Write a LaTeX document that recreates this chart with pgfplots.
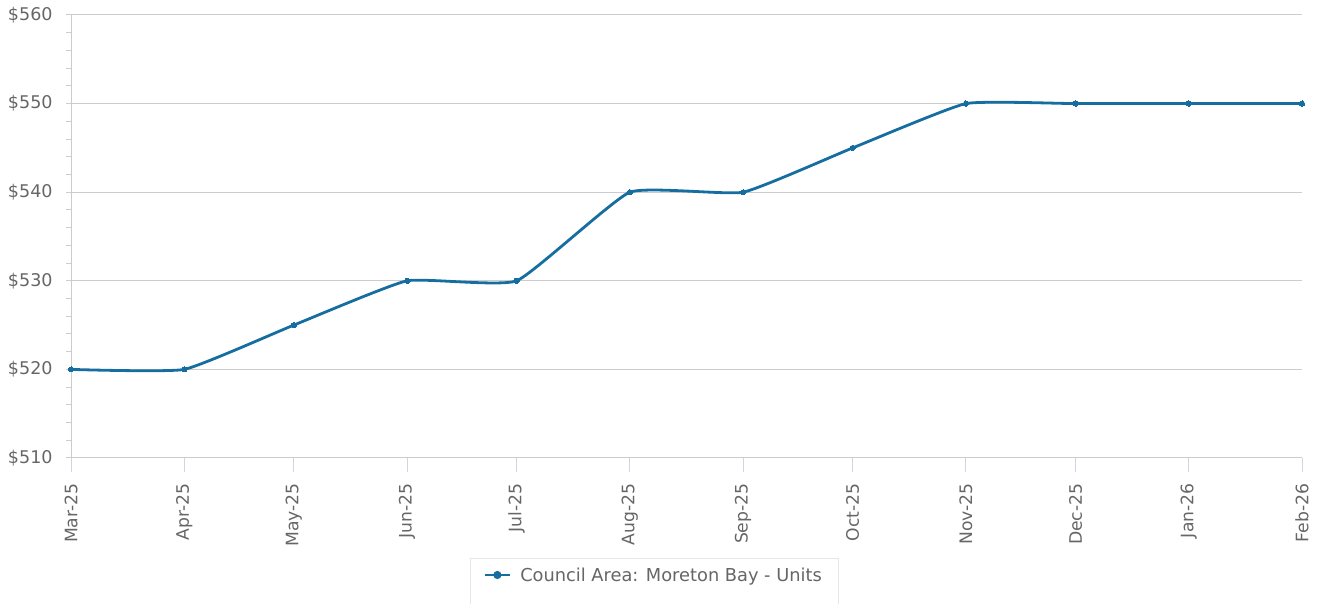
\documentclass[border=0pt]{standalone}
\usepackage{fontspec}
\setmainfont{DejaVu Sans}
\usepackage{pgfplots}
\pgfplotsset{compat=1.18}
\definecolor{txt}{HTML}{666666}
\definecolor{gridc}{HTML}{CCCCCC}
\definecolor{xtickc}{HTML}{CCD6EB}
\definecolor{linec}{RGB}{22,110,160}
\definecolor{legb}{HTML}{E6E6E6}
\begin{document}
\begin{tikzpicture}[x=1pt,y=1pt]
\path[use as bounding box] (0,0) rectangle (1322pt,604pt);
\begin{axis}[
  at={(71pt,146pt)}, anchor=south west,
  scale only axis, width=1231pt, height=443pt,
  xmin=0, xmax=337, ymin=510, ymax=560,
  axis x line*=bottom, axis y line*=left,
  axis line style={draw=gridc, line width=1pt, -},
  tick align=outside,
  xtick={0,31,61,92,122,153,184,214,245,275,306,337},
  xticklabels={Mar-25,Apr-25,May-25,Jun-25,Jul-25,Aug-25,Sep-25,Oct-25,Nov-25,Dec-25,Jan-26,Feb-26},
  ytick={510,520,530,540,550,560},
  yticklabels={\$510,\$520,\$530,\$540,\$550,\$560},
  minor y tick num=4,
  ymajorgrids, major grid style={draw=gridc, line width=1pt},
  x tick style={draw=xtickc, line width=1pt, /pgfplots/major tick length=14pt},
  y tick style={draw=gridc, line width=1pt, /pgfplots/major tick length=5pt, /pgfplots/minor tick length=5pt},
  xticklabel style={rotate=90, anchor=east, inner sep=0pt, font=\fontsize{17.2}{20}\selectfont, text=txt},
  yticklabel style={anchor=east, inner sep=0pt, font=\fontsize{17.5}{20}\selectfont, text=txt},
  xticklabel shift=21pt,
  yticklabel shift=14pt,
  /pgf/number format/assume math mode=true,
  legend style={at={(0.3241,-0.2257)}, anchor=north west, draw=legb, line width=1pt,
    inner xsep=13pt, inner ysep=5pt, font=\fontsize{17.8}{20}\selectfont, text=txt,
    nodes={inner sep=4pt}, column sep=5pt},
  legend image code/.code={\draw[linec, line width=2.8pt] (0pt,0pt) -- (25pt,0pt); \fill[linec] (12.5pt,0pt) circle (2.6pt);},
]
\addplot[linec, line width=2.8pt, smooth, tension=0.25, mark=*, mark size=2.6pt, mark options={fill=linec, draw=linec, line width=0pt}]
  coordinates {(0,520) (31,520) (61,525) (92,530) (122,530) (153,540) (184,540) (214,545) (245,550) (275,550) (306,550) (337,550)};
\addlegendentry{Council Area: Moreton Bay - Units}
\addlegendimage{empty legend}
\addlegendentry{\rule{0pt}{10pt}}
\end{axis}
\end{tikzpicture}
\end{document}
